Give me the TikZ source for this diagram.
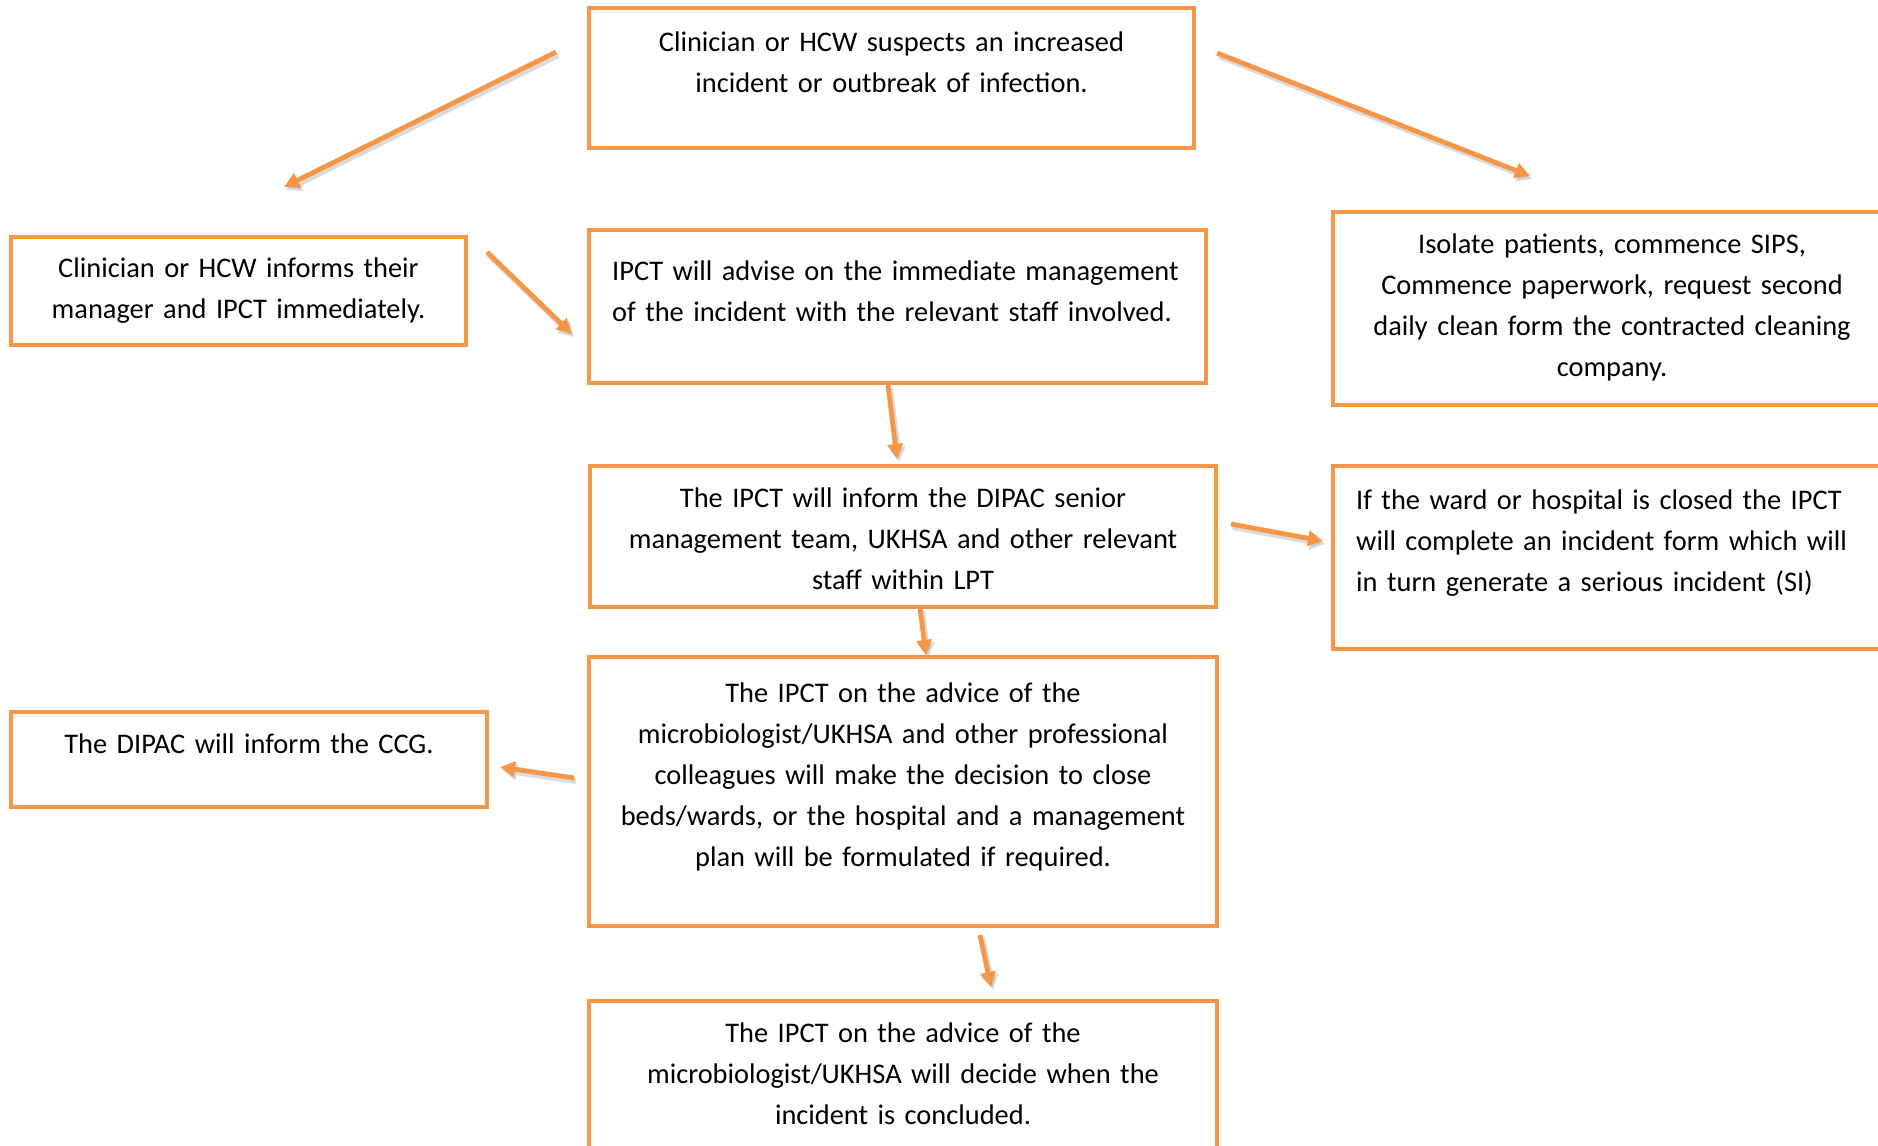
\documentclass[tikz,border=0pt]{standalone}
\usepackage{fontspec}
\setmainfont{Carlito}
\usetikzlibrary{arrows.meta}
\definecolor{boxorange}{HTML}{F79646}
\begin{document}
\begin{tikzpicture}[x=1pt,y=-1pt,
  box/.style={draw=boxorange, line width=4.8pt, inner sep=0pt},
  txtc/.style={inner sep=0pt, font=\fontsize{28.4}{41}\selectfont, text width=#1, align=center, anchor=base},
  txtl/.style={inner sep=0pt, font=\fontsize{28.4}{41}\selectfont, text width=#1, align=left, anchor=base west},
  arr/.style={draw=boxorange, line width=4.8pt, -{Triangle[length=15pt,width=15pt]},
    preaction={draw=black!35, opacity=0.4, line width=6pt, -{Triangle[length=15pt,width=16pt]},
      transform canvas={shift={(2pt,-3pt)}}}}]
\useasboundingbox (0,0) rectangle (1878,1145);
\fill[white] (0,0) rectangle (1878,1145);
\begin{scope}
\clip (0,0) rectangle (1878,1145);
% boxes
\node[box, minimum width=605pt, minimum height=140pt] (A) at (891.5,78) {};
\node[box, minimum width=455pt, minimum height=108pt] (B) at (238.5,291) {};
\node[box, minimum width=617pt, minimum height=153pt] (C) at (897.5,306.5) {};
\node[box, minimum width=558pt, minimum height=193pt] (D) at (1612,308.5) {};
\node[box, minimum width=626pt, minimum height=141pt] (E) at (903,536.5) {};
\node[box, minimum width=558pt, minimum height=183pt] (F) at (1612,557.5) {};
\node[box, minimum width=476pt, minimum height=95pt] (G) at (249,759.5) {};
\node[box, minimum width=628pt, minimum height=269pt] (H) at (903,791.5) {};
\node[box, minimum width=628pt, minimum height=160pt] (I) at (903,1081) {};
\end{scope}
% texts
\node[txtc=580pt] (At) at (891.5,52) {Clinician or HCW suspects an increased\\incident or outbreak of infection.};
\node[txtc=430pt] (Bt) at (238.5,277) {Clinician or HCW informs their\\manager and IPCT immediately.};
\node[txtl=590pt] (Ct) at (612,280) {IPCT will advise on the immediate management\\of the incident with the relevant staff involved.};
\node[txtc=540pt] (Dt) at (1612,253) {Isolate patients, commence SIPS,\\Commence paperwork, request second\\daily clean form the contracted cleaning\\company.};
\node[txtc=600pt] (Et) at (903,507) {The IPCT will inform the DIPAC senior\\management team, UKHSA and other relevant\\staff within LPT};
\node[txtl=520pt] (Ft) at (1356,509) {If the ward or hospital is closed the IPCT\\will complete an incident form which will\\in turn generate a serious incident (SI)};
\node[txtc=450pt] (Gt) at (249,753) {The DIPAC will inform the CCG.};
\node[txtc=610pt] (Ht) at (903,702) {The IPCT on the advice of the\\microbiologist/UKHSA and other professional\\colleagues will make the decision to close\\beds/wards, or the hospital and a management\\plan will be formulated if required.};
\node[txtc=610pt] (It) at (903,1042) {The IPCT on the advice of the\\microbiologist/UKHSA will decide when the\\incident is concluded.};
% arrow end points
\coordinate (p1s) at (556,52);   \coordinate (p1e) at (284,187);
\coordinate (p2s) at (1217,53);  \coordinate (p2e) at (1530,176);
\coordinate (p3s) at (487,252);  \coordinate (p3e) at (572,334);
\coordinate (p4s) at (888,385);  \coordinate (p4e) at (897,459);
\coordinate (p5s) at (920,608);  \coordinate (p5e) at (926,655);
\coordinate (p6s) at (1231,524); \coordinate (p6e) at (1323,541);
\coordinate (p7s) at (574,778);  \coordinate (p7e) at (500,767);
\coordinate (p8s) at (980,935);  \coordinate (p8e) at (991,987);
\draw[arr] (p1s) -- (p1e);
\draw[arr] (p2s) -- (p2e);
\draw[arr] (p3s) -- (p3e);
\draw[arr] (p4s) -- (p4e);
\draw[arr] (p5s) -- (p5e);
\draw[arr] (p6s) -- (p6e);
\draw[arr] (p7s) -- (p7e);
\draw[arr] (p8s) -- (p8e);
\end{tikzpicture}
\end{document}
